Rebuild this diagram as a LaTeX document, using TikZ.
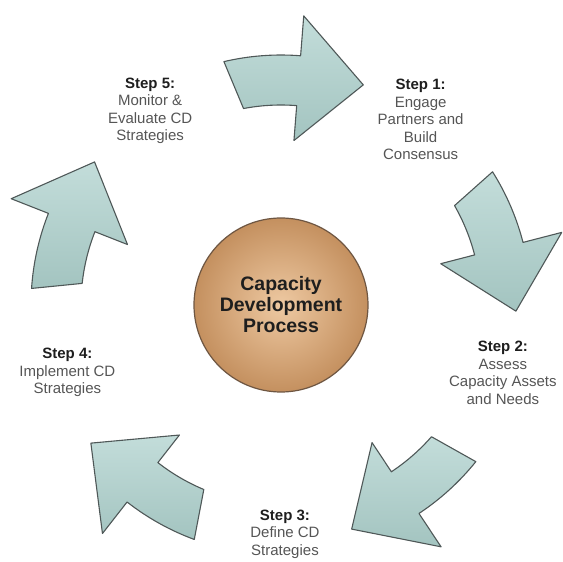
\documentclass[tikz,border=0pt]{standalone}
\usepackage{fontspec}
\setmainfont{Liberation Sans}
\definecolor{arrowlight}{HTML}{C3DDDA}
\definecolor{arrowdark}{HTML}{A3C4C0}
\definecolor{arrowline}{HTML}{4F5858}
\definecolor{hublight}{HTML}{EEC9A2}
\definecolor{hubdark}{HTML}{C4905F}
\definecolor{hubline}{HTML}{6E5642}
\definecolor{steptext}{HTML}{555555}
\definecolor{stephead}{HTML}{1E1E1E}
\begin{document}
\begin{tikzpicture}[line
				join=round,x=1pt,y=1pt,font=\fontsize{15}{17.5}\selectfont,
				ringarrow/.style={draw=arrowline,line width=1.1pt,top color=arrowlight,bottom color=arrowdark},
				hub/.style={circle,draw=hubline,line width=1.2pt,inner color=hublight,outer color=hubdark,minimum size=174pt,align=center,text=stephead,font=\fontsize{19.5}{21}\selectfont\bfseries},
				steplabel/.style={align=center,text=steptext}]
				\useasboundingbox (-281,-257) rectangle (282,305);
				\def\ri{200}
				\def\ro{250}
				\def\hi{165}
				\def\ho{290}
				\def\rt{235}
				\foreach \t in {102,31,-40,-111.5,175}{
				\pgfmathsetmacro\ta{\t+1.2}
				\pgfmathsetmacro\tb{\t-1.2}
				\pgfmathsetmacro\h{\t-16.5}
				\pgfmathsetmacro\p{\t-32.5}
				\path[ringarrow] (\tb:\ri) -- (\ta:\ro) arc[start angle=\ta,end angle=\h,radius=\ro]
				-- (\h:\ho) -- (\p:\rt) -- (\h:\hi) -- (\h:\ri)
				arc[start angle=\h,end angle=\tb,radius=\ri] -- cycle;
				}
				\node[hub] (hub) at (0,0) {Capacity\\Development\\Process};
				\node[steplabel] (step1) at (53:232) {\textbf{\color{stephead}Step 1:}\\Engage\\Partners and\\Build\\Consensus};
				\node[steplabel] (step2) at (-17:232) {\textbf{\color{stephead}Step 2:}\\Assess\\Capacity Assets\\and Needs};
				\node[steplabel] (step3) at (-89:229) {\textbf{\color{stephead}Step 3:}\\Define CD\\Strategies};
				\node[steplabel] (step4) at (-162.5:224) {\textbf{\color{stephead}Step 4:}\\Implement CD\\Strategies};
				\node[steplabel] (step5) at (124:234) {\textbf{\color{stephead}Step 5:}\\Monitor \&\\Evaluate CD\\Strategies};
			\end{tikzpicture}
\end{document}
